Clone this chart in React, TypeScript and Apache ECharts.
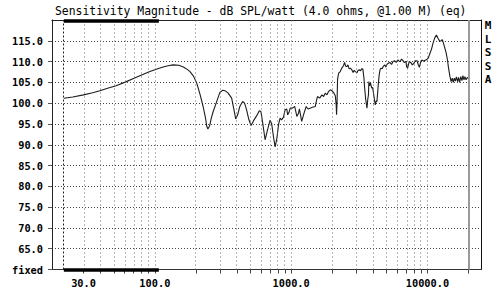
import React, { useEffect, useRef } from 'react';
import * as echarts from 'echarts';

const titleText = 'Sensitivity Magnitude - dB SPL/watt (4.0 ohms, @1.00 M) (eq)';
const sideLetters = ['M', 'L', 'S', 'S', 'A'];

const freqHz = [
  21.5, 25, 30, 35, 39.5, 45, 52, 60, 69, 80, 92, 105, 115, 125, 136, 150, 162, 175, 181, 192,
  203, 215, 226, 236, 240, 245, 252, 260, 268, 285, 300, 315, 327, 345, 366, 380, 392, 405, 420, 441,
  455, 470, 490, 508, 530, 559, 584, 600, 620, 644, 670, 701, 720, 745, 763, 785, 810, 829, 850, 877,
  903, 929, 942, 965, 984, 1020, 1062, 1101, 1130, 1150, 1195, 1240, 1289, 1330, 1377, 1430, 1503, 1530, 1560, 1620,
  1682, 1730, 1778, 1830, 1881, 1936, 1990, 2060, 2108, 2140, 2153, 2170, 2190, 2230, 2290, 2360, 2420, 2466, 2510, 2560,
  2610, 2660, 2718, 2790, 2850, 2900, 2963, 3040, 3100, 3175, 3230, 3300, 3357, 3420, 3453, 3520, 3555, 3600, 3650, 3690,
  3717, 3760, 3820, 3903, 3960, 4010, 4080, 4139, 4200, 4258, 4310, 4369, 4430, 4500, 4571, 4650, 4750, 4871, 4950, 5060,
  5160, 5306, 5450, 5600, 5752, 5900, 6070, 6200, 6315, 6450, 6591, 6750, 6960, 7027, 7150, 7341, 7530, 7750, 7960, 8150,
  8383, 8550, 8727, 8900, 9100, 9350, 9617, 9900, 10150, 10430, 10710, 11000, 11310, 11630, 11950, 12300, 12600, 12820, 13000, 13320,
  13710, 14000, 14270, 14600, 14900, 15200, 15450, 15740, 16000, 16300, 16620, 16900, 17200, 17550, 17900, 18200, 18530, 18840, 19200, 19600,
  20000,
];
const splDb = [
  101.2, 101.5, 102.0, 102.5, 103.0, 103.6, 104.2, 105.0, 105.9, 106.8, 107.6, 108.3, 108.7, 109.0, 109.2, 109.1, 108.7, 108.0, 107.6, 106.5,
  104.8, 102.0, 99.2, 96.2, 94.5, 93.8, 94.5, 96.5, 98.0, 100.5, 102.6, 103.1, 103.0, 102.4, 101.2, 98.5, 96.2, 97.2, 99.2, 100.4,
  100.0, 98.5, 96.0, 94.6, 95.8, 97.0, 98.2, 98.0, 95.0, 91.2, 93.5, 95.9, 95.0, 91.5, 89.5, 91.5, 95.0, 96.4, 96.0, 96.6,
  98.4, 98.6, 97.2, 97.8, 98.8, 98.8, 99.2, 96.8, 97.5, 98.6, 95.6, 97.5, 99.2, 98.6, 98.8, 99.0, 99.2, 100.5, 101.6, 101.2,
  102.0, 101.6, 102.4, 102.0, 102.8, 103.2, 103.0, 102.4, 101.8, 99.5, 97.2, 100.0, 105.8, 107.2, 107.6, 108.5, 109.0, 109.8, 108.9, 108.8,
  109.2, 108.3, 108.4, 108.0, 107.4, 107.9, 107.6, 107.3, 107.9, 108.0, 107.8, 108.3, 108.2, 106.0, 104.0, 101.0, 100.0, 98.8, 101.0, 102.0,
  105.2, 104.2, 104.8, 103.6, 103.8, 102.6, 101.0, 99.6, 100.5, 100.4, 102.5, 105.0, 107.0, 108.2, 108.4, 108.3, 108.9, 109.2, 108.7, 109.4,
  109.6, 109.8, 109.3, 110.1, 110.2, 109.8, 110.4, 110.1, 110.0, 110.6, 110.3, 109.8, 110.0, 108.8, 108.4, 110.0, 109.8, 109.2, 109.6, 110.2,
  110.2, 109.3, 108.6, 109.8, 110.4, 110.1, 110.3, 110.5, 110.9, 112.0, 113.0, 114.5, 115.7, 116.4, 115.6, 114.9, 115.0, 115.3, 114.8, 113.6,
  112.1, 110.5, 108.5, 106.5, 105.2, 106.0, 105.0, 106.0, 105.3, 106.3, 105.2, 106.2, 105.0, 106.4, 105.4, 106.6, 105.6, 106.4, 105.6, 106.2,
  106.0,
];

const yTickValues = [60, 65, 70, 75, 80, 85, 90, 95, 100, 105, 110, 115];
const xLabelFreqs = [30, 100, 1000, 10000];
const xGridFreqs = [
  30, 40, 50, 60, 70, 80, 90, 100, 200, 300, 400, 500, 600, 700, 800, 900,
  1000, 2000, 3000, 4000, 5000, 6000, 7000, 8000, 9000, 10000,
];
const xTickFreqs = [...xGridFreqs, 20000];
const minFreq = 17.6;
const maxFreq = 24700;
const startFreq = 21.5;
const barEndFreq = 107;
const endFreq = 20000;
const yMin = 60;
const yMax = 120;
const topBarLevel = 119.8;

const lg = (f: number) => Math.log10(f);
const MONO = '"DejaVu Sans Mono", "Liberation Mono", monospace';

export default function App() {
  const ref = useRef<HTMLDivElement>(null);
  useEffect(() => {
    if (!ref.current) return;
    const chart = echarts.init(ref.current, undefined, { renderer: 'svg' });
    const curve = freqHz.map((f, i) => [lg(f), splDb[i]]);
    const option: any = {
      animation: false,
      backgroundColor: '#fff',
      title: {
        text: titleText,
        left: 55,
        top: 5,
        padding: 0,
        textStyle: { fontFamily: MONO, fontSize: 11.4, fontWeight: 'normal', color: '#000' },
      },
      graphic: sideLetters.map((ch, i) => ({
        type: 'text',
        x: 488,
        y: 25.5 + i * 13.6,
        style: {
          text: ch,
          fontFamily: MONO,
          fontSize: 11,
          fontWeight: 'bold',
          fill: '#000',
          align: 'center',
          verticalAlign: 'middle',
        },
      })),
      grid: { left: 52, right: 19, top: 20, bottom: 24.5, containLabel: false },
      xAxis: [
        {
          type: 'value',
          min: lg(minFreq),
          max: lg(maxFreq),
          axisLine: { show: true, lineStyle: { color: '#333', width: 1 } },
          axisTick: {
            show: true,
            customValues: xTickFreqs.map(lg),
            length: 4,
            lineStyle: { color: '#444' },
          },
          axisLabel: {
            customValues: xLabelFreqs.map(lg),
            formatter: (v: number) => Math.round(Math.pow(10, v)).toFixed(1),
            fontFamily: MONO,
            fontSize: 10.3,
            fontWeight: 'bold',
            color: '#000',
            margin: 8,
          },
          splitLine: { show: false },
        },
        {
          type: 'value',
          position: 'top',
          min: lg(minFreq),
          max: lg(maxFreq),
          axisLine: { show: true, lineStyle: { color: '#222', width: 1 } },
          axisTick: { show: false },
          axisLabel: { show: false },
          splitLine: { show: false },
        },
      ],
      yAxis: [
        {
          type: 'value',
          min: yMin,
          max: yMax,
          interval: 5,
          axisLine: { show: true, lineStyle: { color: '#222', width: 1 } },
          axisTick: {
            show: true,
            customValues: yTickValues,
            length: 4,
            lineStyle: { color: '#555' },
          },
          axisLabel: {
            customValues: yTickValues,
            formatter: (v: number) => (v === yMin ? 'fixed' : v.toFixed(1)),
            fontFamily: MONO,
            fontSize: 10.3,
            fontWeight: 'bold',
            color: '#000',
            margin: 9,
          },
          splitLine: { show: true, lineStyle: { color: '#444', type: [1, 2], width: 1 } },
        },
        {
          type: 'value',
          position: 'right',
          min: yMin,
          max: yMax,
          interval: 5,
          axisLine: { show: true, lineStyle: { color: '#111', width: 1 } },
          axisTick: { show: false },
          axisLabel: { show: false },
          splitLine: { show: false },
        },
      ],
      series: [
        {
          type: 'line',
          data: [],
          z: 1,
          silent: true,
          markLine: {
            silent: true,
            symbol: ['none', 'none'],
            label: { show: false },
            animation: false,
            lineStyle: { color: '#6a6a6a', type: [1, 3], width: 1 },
            data: [
              ...xGridFreqs.map((f) => ({ xAxis: lg(f) })),
              { xAxis: lg(startFreq), lineStyle: { color: '#222', type: [2, 2], width: 1 } },
            ],
          },
        },
        {
          type: 'line',
          data: curve,
          z: 3,
          showSymbol: false,
          symbol: 'none',
          lineStyle: { color: '#1c1c1c', width: 1.1 },
          markLine: {
            silent: true,
            symbol: ['none', 'none'],
            label: { show: false },
            animation: false,
            data: [
              [
                { coord: [lg(startFreq), topBarLevel], lineStyle: { color: '#000', width: 3.5, type: 'solid' } },
                { coord: [lg(barEndFreq), topBarLevel] },
              ],
              [
                { coord: [lg(startFreq), yMin], lineStyle: { color: '#000', width: 3.5, type: 'solid' } },
                { coord: [lg(barEndFreq), yMin] },
              ],
              { xAxis: lg(endFreq), lineStyle: { color: '#9a9a9a', width: 2, type: 'solid' } },
            ],
          },
        },
      ],
    };
    chart.setOption(option);
    return () => chart.dispose();
  }, []);
  return (
    <div
      ref={ref}
      style={{ position: 'fixed', left: 0, top: 0, width: 500, height: 294, background: '#fff' }}
    />
  );
}
